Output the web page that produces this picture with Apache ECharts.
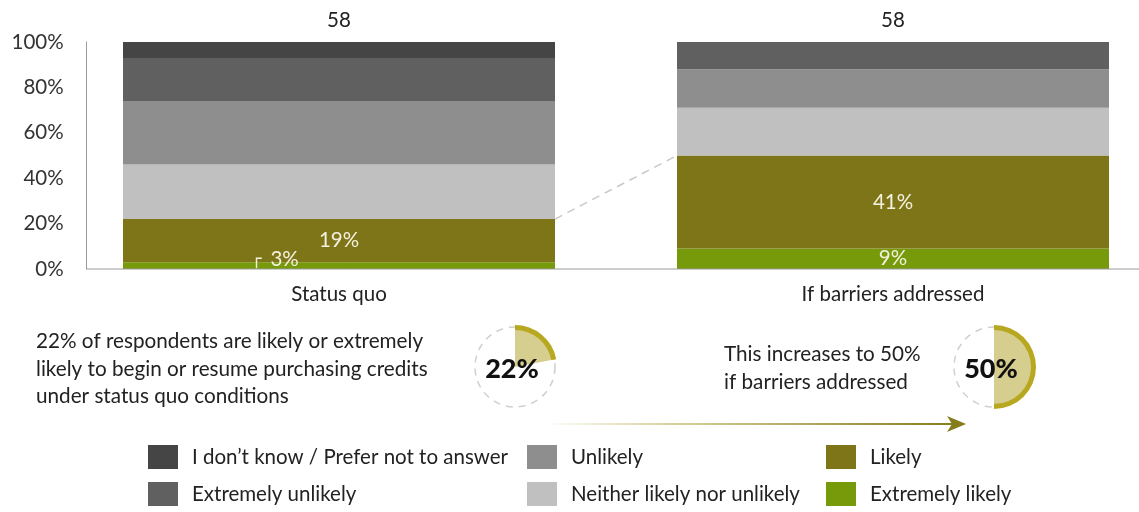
<!DOCTYPE html>
<html>
<head>
<meta charset="utf-8">
<script src="https://cdn.jsdelivr.net/npm/echarts@6/dist/echarts.min.js"></script>
<style>
  html, body { margin: 0; padding: 0; background: #fff; }
  #chart { width: 1139px; height: 512px; }
</style>
</head>
<body>
<div id="chart"></div>
<script>
// Survey responses (% of respondents) per scenario
const categories = ['Status quo', 'If barriers addressed'];
const sampleSizes = ['58', '58'];
const extremelyLikely = [3, 9];
const likely = [19, 41];
const neither = [24, 21];
const unlikely = [28, 17];
const extremelyUnlikely = [19, 12];
const dontKnow = [7, 0];

const seriesNames = [
  'Extremely likely',
  'Likely',
  'Neither likely nor unlikely',
  'Unlikely',
  'Extremely unlikely',
  'I don’t know / Prefer not to answer'
];
const seriesValues = [extremelyLikely, likely, neither, unlikely, extremelyUnlikely, dontKnow];
const seriesColors = ['#769a0a', '#7e7518', '#c0c0c0', '#8e8e8e', '#606060', '#454545'];

const summaryText = [
  '22% of respondents are likely or extremely',
  'likely to begin or resume purchasing credits',
  'under status quo conditions'
];
const increaseText = ['This increases to 50%', 'if barriers addressed'];

// Share of "likely" + "extremely likely" per scenario
const positiveShare = categories.map((_, i) => extremelyLikely[i] + likely[i]);

const FONT = 'Lato, "Noto Sans", sans-serif';
const FS = 20.5;
const TEXT = '#222';
const BAR_W = 432;
const GRID = { left: 62, top: 42, width: 1108, height: 227 };
const Y_OFFSET = -24.6;

const chart = echarts.init(document.getElementById('chart'), null, { renderer: 'canvas' });

const labelText = '#f3f1de';
const barSeries = seriesNames.map((name, si) => {
  const s = {
    name: name,
    type: 'bar',
    stack: 'total',
    barWidth: BAR_W,
    xAxisIndex: 0,
    yAxisIndex: 0,
    itemStyle: { color: seriesColors[si] },
    emphasis: { disabled: true },
    data: seriesValues[si].slice()
  };
  if (si === 1) {
    s.label = { show: true, position: 'inside', formatter: '{c}%', color: labelText, fontSize: FS, fontFamily: FONT };
  }
  if (si === 0) {
    s.data = seriesValues[si].map((v, i) => i === 0
      ? { value: v, label: { show: true, position: 'inside', offset: [-64, -6],
          formatter: '{b|┌}' + v + '%',
          rich: { b: { fontFamily: 'DejaVu Sans', fontSize: 17, color: labelText, padding: [0, 9, 0, 0] } } } }
      : { value: v, label: { show: true, position: 'inside', formatter: v + '%' } });
    s.label = { show: false, color: labelText, fontSize: FS, fontFamily: FONT };
  }
  return s;
});

// Donut call-outs for the positive share in each scenario
const donutCenters = [[515, 367], [994, 367]];
const donutSeries = [];
positiveShare.forEach((share, i) => {
  donutSeries.push({
    type: 'pie', silent: true, center: donutCenters[i], radius: [0, 41],
    startAngle: 90, clockwise: true, animation: false,
    itemStyle: { borderWidth: 0 },
    label: { show: false }, labelLine: { show: false },
    data: [
      { value: share, itemStyle: { color: '#d6ce8e' },
        label: { show: true, position: 'center', formatter: share + '%', fontSize: 27, fontWeight: 900,
                 color: '#111', fontFamily: FONT, offset: [-3, 2] } },
      { value: 100 - share, itemStyle: { color: 'rgba(0,0,0,0)' } }
    ]
  });
  donutSeries.push({
    type: 'pie', silent: true, center: donutCenters[i], radius: [37, 42],
    startAngle: 90, clockwise: true, animation: false,
    itemStyle: { borderWidth: 0 },
    label: { show: false }, labelLine: { show: false },
    data: [
      { value: share, itemStyle: { color: '#b7a820' } },
      { value: 100 - share, itemStyle: { color: 'rgba(0,0,0,0)' } }
    ]
  });
});

const legendBase = {
  orient: 'vertical', top: 445, padding: 0, itemWidth: 30, itemHeight: 24, itemGap: 13,
  icon: 'rect', selectedMode: false,
  textStyle: { fontSize: FS, color: TEXT, fontFamily: FONT, padding: [0, 0, 0, 9] }
};

chart.setOption({
  animation: false,
  backgroundColor: '#fff',
  textStyle: { fontFamily: FONT },
  grid: Object.assign({ outerBoundsMode: 'none', containLabel: false }, GRID),
  legend: [
    Object.assign({}, legendBase, { left: 148, data: [seriesNames[5], seriesNames[4]] }),
    Object.assign({}, legendBase, { left: 527, data: [seriesNames[3], seriesNames[2]] }),
    Object.assign({}, legendBase, { left: 826, data: [seriesNames[1], seriesNames[0]] })
  ],
  xAxis: [
    {
      type: 'category', data: categories, position: 'bottom',
      axisLine: { show: false }, axisTick: { show: false },
      axisLabel: { fontSize: FS, color: TEXT, margin: 15, fontFamily: FONT }
    },
    {
      type: 'category', data: sampleSizes, position: 'top',
      axisLine: { show: false }, axisTick: { show: false },
      axisLabel: { fontSize: FS, color: TEXT, margin: 11, fontFamily: FONT }
    }
  ],
  yAxis: {
    type: 'value', min: 0, max: 100, interval: 20, offset: Y_OFFSET,
    axisLine: { show: true, lineStyle: { color: '#9a9a9a', width: 1 } },
    axisTick: { show: false },
    splitLine: { show: false },
    axisLabel: { formatter: '{value}%', fontSize: FS, color: '#333', margin: 23, fontFamily: FONT }
  },
  series: barSeries.concat(donutSeries)
});

// Connector, baseline, text notes and arrow positioned from the axes
const cx = categories.map(c => chart.convertToPixel({ xAxisIndex: 0 }, c));
const yZero = chart.convertToPixel({ yAxisIndex: 0 }, 0);
const axisX = GRID.left - Y_OFFSET;

chart.setOption({
  graphic: [
    { type: 'line', silent: true, z: 5,
      shape: { x1: axisX, y1: yZero, x2: 1139, y2: yZero },
      style: { stroke: '#9a9a9a', lineWidth: 1 } },
    { type: 'line', silent: true, z: 5,
      shape: { x1: cx[0] + BAR_W / 2, y1: chart.convertToPixel({ yAxisIndex: 0 }, positiveShare[0]),
               x2: cx[1] - BAR_W / 2, y2: chart.convertToPixel({ yAxisIndex: 0 }, positiveShare[1]) },
      style: { stroke: '#c8c8c8', lineWidth: 1.5, lineDash: [8, 6] } },
    // dashed outline circles of the donuts
    { type: 'circle', silent: true, z: 1,
      shape: { cx: donutCenters[0][0], cy: donutCenters[0][1], r: 40 },
      style: { fill: 'none', stroke: '#cfcfcf', lineWidth: 1.5, lineDash: [7, 6] } },
    { type: 'circle', silent: true, z: 1,
      shape: { cx: donutCenters[1][0], cy: donutCenters[1][1], r: 40 },
      style: { fill: 'none', stroke: '#cfcfcf', lineWidth: 1.5, lineDash: [7, 6] } },
    { type: 'text', silent: true, left: 36, top: 328,
      style: { text: summaryText.join('\n'), fontSize: 20.7, lineHeight: 27.5, fill: TEXT, fontFamily: FONT } },
    { type: 'text', silent: true, left: 724, top: 341,
      style: { text: increaseText.join('\n'), fontSize: 20.7, lineHeight: 27.5, fill: TEXT, fontFamily: FONT } },
    // arrow from status quo to barriers-addressed call-out
    { type: 'line', silent: true,
      shape: { x1: 547, y1: 424, x2: 954, y2: 424 },
      style: { lineWidth: 2,
        stroke: new echarts.graphic.LinearGradient(0, 0, 1, 0, [
          { offset: 0, color: 'rgba(214,206,150,0)' },
          { offset: 0.3, color: '#d8d1a0' },
          { offset: 1, color: '#857d1c' }
        ]) } },
    { type: 'polygon', silent: true,
      shape: { points: [[966, 424], [947, 416], [952, 424], [947, 432]] },
      style: { fill: '#857d1c' } }
  ]
});
</script>
</body>
</html>
